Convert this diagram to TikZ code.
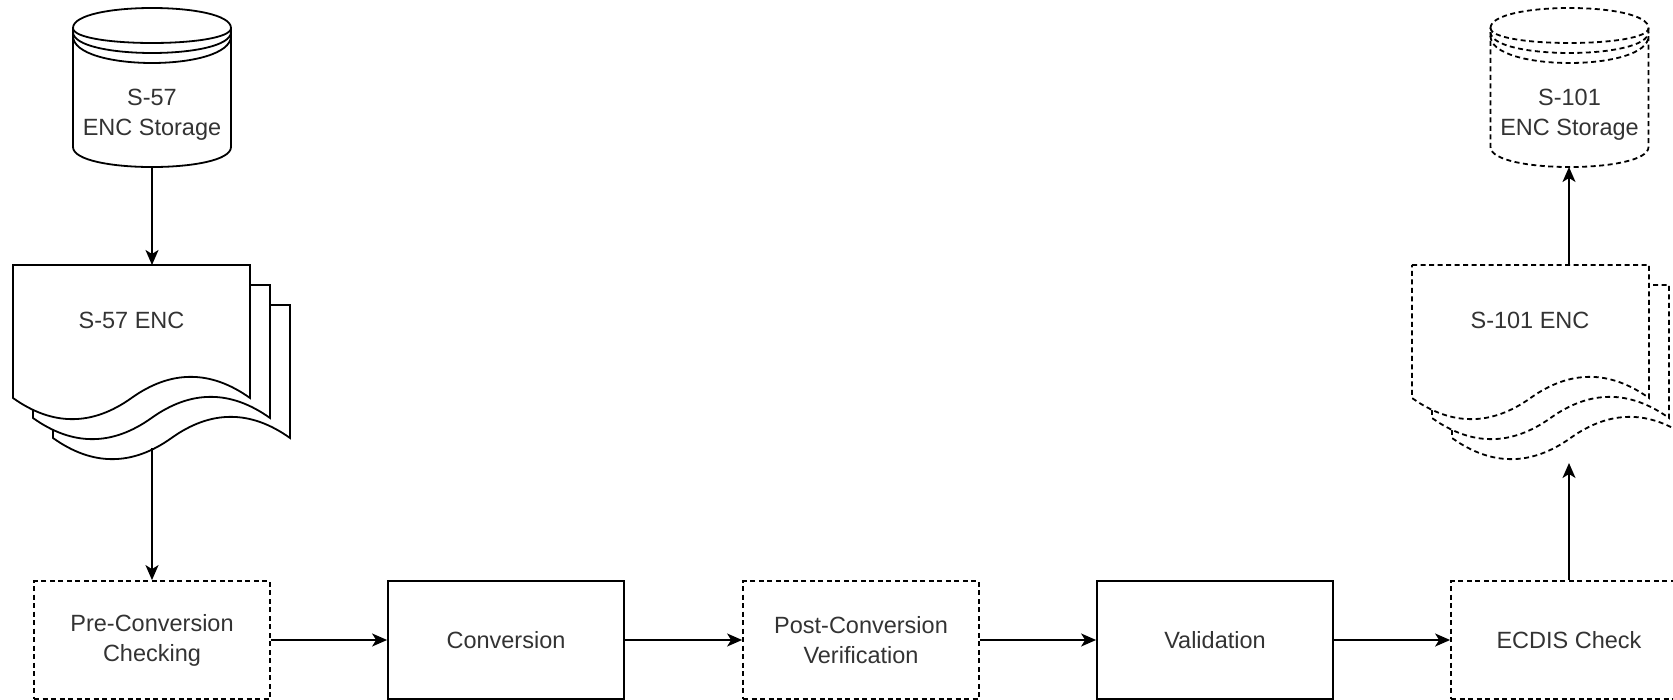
\documentclass[tikz,border=0pt]{standalone}
\usepackage{fontspec}
\setmainfont{Liberation Sans}
\usetikzlibrary{arrows.meta}
\definecolor{txt}{RGB}{51,51,51}
\tikzset{
  every picture/.style={line width=1.8pt},
  lbl/.style={text=txt, font=\fontsize{23.5}{30}\selectfont, align=center, inner sep=0pt},
  procbox/.style={draw, minimum width=236pt, minimum height=118pt, inner sep=0pt, lbl},
  dsh/.style={dash pattern=on 5pt off 3.5pt},
  conn/.style={-{Stealth[length=15pt,width=13pt,inset=4pt]}, line width=1.8pt},
  encpage/.pic={
    \draw[pic actions, fill=white] (0,0) -- (237,0) -- (237,133)
      .. controls (197.5,104.8) and (158,104.8) .. (118.5,133)
      .. controls (79,161.2) and (39.5,161.2) .. (0,133) -- cycle;
  },
  encdb/.pic={
    \draw[pic actions, fill=white] (0,20) .. controls (0,-6.67) and (158,-6.67) .. (158,20)
      -- (158,139) .. controls (158,165.7) and (0,165.7) .. (0,139) -- cycle;
    \draw[pic actions] (0,20) .. controls (0,40) and (158,40) .. (158,20);
    \draw[pic actions] (0,24) .. controls (0,52) and (158,52) .. (158,24);
    \draw[pic actions] (0,28) .. controls (0,64) and (158,64) .. (158,28);
  }
}
\begin{document}
\begin{tikzpicture}[x=1pt,y=-1pt]
\useasboundingbox (0,0) rectangle (1673,700);
\clip (0,0) rectangle (1673,700);
\fill[white] (0,0) rectangle (1673,700);

% S-57 storage
\pic at (73,8) {encdb};
\node[lbl] (s57dbtxt) at (152,115) {S-57\\ENC Storage};
\coordinate (s57dbB) at (152,167);

% S-57 ENC documents
\pic at (53,305) {encpage};
\pic at (33,285) {encpage};
\pic at (13,265) {encpage};
\node[lbl] (s57doctxt) at (131.5,320) {S-57 ENC};
\coordinate (s57docT) at (152,265);
\coordinate (s57docB) at (152,448);

% S-101 storage
\pic[dsh] at (1490.5,8) {encdb};
\node[lbl] (s101dbtxt) at (1569.5,115) {S-101\\ENC Storage};
\coordinate (s101dbB) at (1569,167);

% S-101 ENC documents
\pic[dsh] at (1452,305) {encpage};
\pic[dsh] at (1432,285) {encpage};
\pic[dsh] at (1412,265) {encpage};
\node[lbl] (s101doctxt) at (1530,320) {S-101 ENC};
\coordinate (s101docT) at (1569,265);
\coordinate (s101docB) at (1569,463);

% process boxes
\node[procbox, dsh] (pre)  at (152,640)  {Pre-Conversion\\Checking};
\node[procbox]      (conv) at (506,640)  {Conversion};
\node[procbox, dsh] (post) at (861,640)  {Post-Conversion\\Verification};
\node[procbox]      (val)  at (1215,640) {Validation};
\node[procbox, dsh] (ecdis) at (1569,640) {ECDIS Check};

% connectors
\draw[conn] (s57dbB) -- (s57docT);
\draw[conn] (s57docB) -- (pre.north);
\draw[conn] (pre.east) -- (conv.west);
\draw[conn] (conv.east) -- (post.west);
\draw[conn] (post.east) -- (val.west);
\draw[conn] (val.east) -- (ecdis.west);
\draw[conn] (ecdis.north) -- (s101docB);
\draw[conn] (s101docT) -- (s101dbB);
\end{tikzpicture}
\end{document}
